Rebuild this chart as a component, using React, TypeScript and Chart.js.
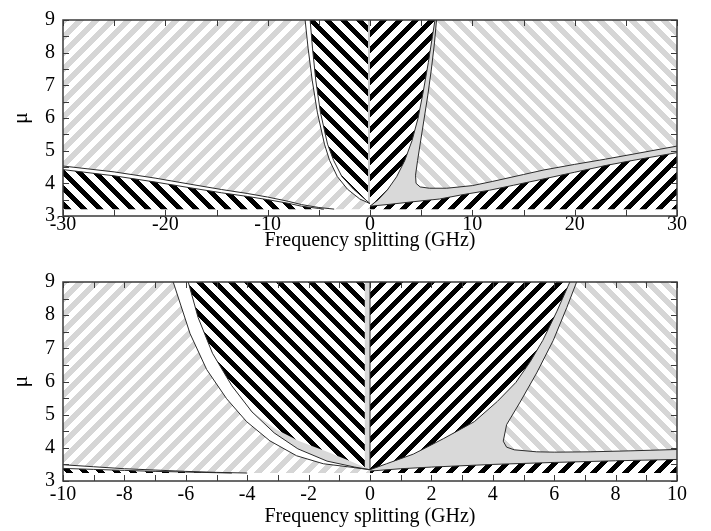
import React, { useEffect, useRef } from 'react';
import { Chart, registerables } from 'chart.js';

Chart.register(...registerables);

type P = [number, number];

// ---------------- Top panel (x: -30..30 GHz) ----------------
const topXTicks = [-30, -20, -10, 0, 10, 20, 30];
const topXMarks = [-30, -25, -20, -15, -10, -5, 0, 5, 10, 15, 20, 25, 30];
const muTicks = [3, 4, 5, 6, 7, 8, 9];
const muMarks = [3, 3.5, 4, 4.5, 5, 5.5, 6, 6.5, 7, 7.5, 8, 8.5, 9];
const topFloor = 3.21;

const topLeftUpper: P[] = [[-30, 4.53], [-25, 4.35], [-21, 4.16], [-17.5, 3.97], [-14.5, 3.81], [-12, 3.69], [-10, 3.58], [-8, 3.45], [-6.7, 3.35], [-5, 3.26], [-3.5, 3.21]];
const topLeftLower: P[] = [[-30, 4.42], [-25, 4.23], [-21, 4.04], [-17.5, 3.86], [-14.5, 3.71], [-12, 3.6], [-10, 3.5], [-8, 3.39], [-6.7, 3.3], [-5, 3.23], [-4.5, 3.21]];
const topVOuter: P[] = [[-6.34, 9], [-6.05, 8.14], [-5.65, 7.16], [-5.15, 6.18], [-4.45, 5.2], [-3.95, 4.7], [-3.2, 4.21], [-2.2, 3.82], [-1.0, 3.52], [0, 3.38]];
const topVInner: P[] = [[-5.85, 9], [-5.62, 8.14], [-5.3, 7.16], [-4.85, 6.18], [-4.15, 5.2], [-3.55, 4.7], [-2.75, 4.21], [-1.6, 3.82], [-0.55, 3.53], [0, 3.38]];
const topVRight: P[] = [[0, 3.3], [0.8, 3.5], [1.7, 3.8], [2.6, 4.2], [3.4, 4.7], [4.1, 5.3], [4.7, 6.0], [5.2, 6.8], [5.7, 7.7], [6.1, 8.5], [6.35, 9]];
const topGrayRight: P[] = [[6.5, 9], [6.3, 8.3], [6.0, 7.5], [5.65, 6.7], [5.3, 6.0], [4.95, 5.3], [4.65, 4.7], [4.45, 4.25], [4.5, 4.0], [4.9, 3.89], [5.8, 3.85], [7.5, 3.85], [10, 3.93], [12, 4.06], [15, 4.27], [17, 4.41], [20, 4.58], [23, 4.74], [26, 4.91], [30, 5.14]];
const topLowerRight: P[] = [[0, 3.3], [2, 3.36], [4, 3.43], [6.8, 3.52], [9, 3.65], [11.7, 3.79], [14, 3.94], [16.6, 4.11], [20, 4.34], [23.1, 4.55], [26, 4.72], [30, 4.94]];

// ---------------- Bottom panel (x: -10..10 GHz) ----------------
const botXTicks = [-10, -8, -6, -4, -2, 0, 2, 4, 6, 8, 10];
const botXMarks = [-10, -9, -8, -7, -6, -5, -4, -3, -2, -1, 0, 1, 2, 3, 4, 5, 6, 7, 8, 9, 10];
const botFloor = 3.24;

const botLeftUpper: P[] = [[-10, 3.49], [-9, 3.43], [-8, 3.37], [-7, 3.33], [-6, 3.29], [-5, 3.26], [-4, 3.24]];
const botLeftLower: P[] = [[-10, 3.38], [-9, 3.35], [-8, 3.32], [-7, 3.29], [-6, 3.27], [-5, 3.25], [-4.5, 3.24]];
const botVOuter: P[] = [[-6.41, 9], [-5.86, 7.44], [-5.32, 6.36], [-4.67, 5.48], [-4.02, 4.79], [-3.26, 4.21], [-2.39, 3.76], [-1.52, 3.52], [-0.65, 3.42], [0, 3.34]];
const botVMid: P[] = [[-5.92, 9], [-5.6, 7.93], [-5.13, 6.85], [-4.5, 5.87], [-3.85, 5.09], [-3.12, 4.45], [-2.35, 3.97], [-1.4, 3.6], [-0.5, 3.42], [0, 3.34]];
const botVBlack: P[] = [[-5.92, 9], [-5.6, 7.93], [-5.13, 6.85], [-4.5, 5.87], [-3.85, 5.09], [-3.05, 4.55], [-2.3, 4.2], [-1.5, 3.92], [-0.65, 3.6], [0, 3.34]];
const botVRight: P[] = [[0, 3.34], [0.54, 3.52], [1.41, 3.81], [2.4, 4.28], [3.4, 4.79], [4.15, 5.4], [4.75, 5.97], [5.22, 6.6], [5.63, 7.24], [6.08, 8.1], [6.51, 9]];
const botGrayRight: P[] = [[6.73, 9], [6.41, 8.23], [5.97, 7.24], [5.43, 6.26], [4.89, 5.38], [4.45, 4.7], [4.34, 4.2], [4.45, 4.02], [4.7, 3.94], [5.43, 3.88], [6, 3.87], [7.17, 3.88], [8.5, 3.91], [10, 3.95]];
const botLowerRight: P[] = [[0, 3.3], [1, 3.37], [2, 3.42], [4, 3.5], [6, 3.56], [8, 3.61], [10, 3.65]];
const botCenterStrip: P[] = [[-0.17, 3.36], [-0.17, 9], [0, 9], [0, 3.34]];

const FONT = "'Liberation Serif', 'Times New Roman', serif";
const LINE = '#2b2b2b';
const GRAY_SOLID = '#d9d9d9';

type Pats = { grayUp: CanvasPattern; grayDown: CanvasPattern; blackUp: CanvasPattern; blackDown: CanvasPattern };

function stripe(ctx: CanvasRenderingContext2D, color: [number, number, number], dir: 1 | -1, period: number, w: number): CanvasPattern {
  const c = document.createElement('canvas');
  c.width = period;
  c.height = period;
  const cx = c.getContext('2d')!;
  const img = cx.createImageData(period, period);
  for (let y = 0; y < period; y++) {
    for (let x = 0; x < period; x++) {
      const k = (((x + dir * y) % period) + period) % period;
      const on = k < w;
      const i = (y * period + x) * 4;
      img.data[i] = on ? color[0] : 255;
      img.data[i + 1] = on ? color[1] : 255;
      img.data[i + 2] = on ? color[2] : 255;
      img.data[i + 3] = 255;
    }
  }
  cx.putImageData(img, 0, 0);
  return ctx.createPattern(c, 'repeat')!;
}

function makePatterns(ctx: CanvasRenderingContext2D): Pats {
  return {
    grayUp: stripe(ctx, [214, 214, 214], 1, 16, 8),
    grayDown: stripe(ctx, [214, 214, 214], -1, 16, 8),
    blackUp: stripe(ctx, [0, 0, 0], 1, 16, 7),
    blackDown: stripe(ctx, [0, 0, 0], -1, 16, 7),
  };
}

const pts = (a: P[]) => a.map(([x, y]) => ({ x, y }));
const rev = (a: P[]) => a.slice().reverse();
const last = (a: P[]) => a[a.length - 1];

const region = (a: P[], bg: any, order: number) => ({
  data: pts(a),
  fill: 'shape',
  backgroundColor: bg,
  borderColor: 'rgba(0,0,0,0)',
  borderWidth: 0,
  pointRadius: 0,
  pointHoverRadius: 0,
  tension: 0,
  order,
});
const curve = (a: P[], color = LINE, width = 1, order = 1) => ({
  data: pts(a),
  fill: false,
  backgroundColor: 'rgba(0,0,0,0)',
  borderColor: color,
  borderWidth: width,
  pointRadius: 0,
  pointHoverRadius: 0,
  tension: 0,
  order,
});

function topDatasets(p: Pats) {
  return [
    region([[-30, topFloor], [-30, 9], [0, 9], [0, topFloor]], p.grayUp, 10),
    region([[0, topFloor], [0, 9], [30, 9], [30, topFloor]], p.grayDown, 10),
    region([[-30, topFloor], ...topLeftUpper, [last(topLeftUpper)[0], topFloor]], '#ffffff', 9),
    region([[-30, topFloor], ...topLeftLower, [last(topLeftLower)[0], topFloor]], p.blackDown, 8),
    region([...topVOuter, [0, 9]], '#ffffff', 9),
    region([...topVInner, [0, 9]], p.blackDown, 8),
    region([[0, 9], ...topLowerRight, ...rev(topGrayRight)], GRAY_SOLID, 9),
    region([[0, 9], ...topVRight], p.blackUp, 8),
    region([[0, topFloor], ...topLowerRight, [30, topFloor]], p.blackUp, 8),
    curve([[-0.1, 3.38], [-0.1, 9]], '#c4c4c4', 2, 6),
    curve(topLeftUpper),
    curve(topLeftLower),
    curve(topVOuter),
    curve(topVInner),
    curve(topVRight),
    curve(topGrayRight),
    curve(topLowerRight),
  ];
}

function botDatasets(p: Pats) {
  return [
    region([[-10, botFloor], [-10, 9], [0, 9], [0, botFloor]], p.grayUp, 10),
    region([[0, botFloor], [0, 9], [10, 9], [10, botFloor]], p.grayDown, 10),
    region([[-10, botFloor], ...botLeftUpper, [last(botLeftUpper)[0], botFloor]], '#ffffff', 9),
    region([[-10, botFloor], ...botLeftLower, [last(botLeftLower)[0], botFloor]], p.blackDown, 8),
    region([...botVOuter, [0, 9]], '#ffffff', 9.5),
    region([...botVMid, [0, 9]], GRAY_SOLID, 9),
    region([...botVBlack, [0, 9]], p.blackDown, 8),
    region([[0, 9], ...botLowerRight, ...rev(botGrayRight)], GRAY_SOLID, 9),
    region([[0, 9], ...botVRight], p.blackUp, 8),
    region([[0, botFloor], ...botLowerRight, [10, botFloor]], p.blackUp, 8),
    region(botCenterStrip, GRAY_SOLID, 7),
    curve([[0, 3.34], [0, 9]], LINE, 1, 2),
    curve(botLeftUpper),
    curve(botLeftLower),
    curve(botVOuter),
    curve(botVMid),
    curve(botVRight),
    curve(botGrayRight),
    curve(botLowerRight),
  ];
}

const frameTicks = {
  id: 'frameTicks',
  afterDatasetsDraw(chart: any, _args: any, opts: any) {
    const { ctx, chartArea: a, scales } = chart;
    const xs = scales.x;
    const ys = scales.y;
    const L = 6;
    ctx.save();
    ctx.strokeStyle = '#3a3a3a';
    ctx.lineWidth = 1;
    ctx.beginPath();
    for (const v of opts.xMarks) {
      const px = Math.round(xs.getPixelForValue(v)) + 0.5;
      ctx.moveTo(px, a.bottom);
      ctx.lineTo(px, a.bottom - L);
      ctx.moveTo(px, a.top);
      ctx.lineTo(px, a.top + L);
    }
    for (const v of opts.yMarks) {
      const py = Math.round(ys.getPixelForValue(v)) + 0.5;
      ctx.moveTo(a.left, py);
      ctx.lineTo(a.left + L, py);
      ctx.moveTo(a.right, py);
      ctx.lineTo(a.right - L, py);
    }
    ctx.stroke();
    ctx.lineWidth = 1.5;
    ctx.strokeRect(a.left, a.top, a.right - a.left, a.bottom - a.top);
    ctx.restore();
  },
};

type PanelProps = {
  top: number;
  height: number;
  padTop: number;
  xAxisH: number;
  tickPad: number;
  titlePadBottom: number;
  xMin: number;
  xMax: number;
  xTicks: number[];
  xMarks: number[];
  build: (p: Pats) => any[];
};

function Panel(props: PanelProps) {
  const ref = useRef<HTMLCanvasElement>(null);
  useEffect(() => {
    const canvas = ref.current!;
    const ctx = canvas.getContext('2d')!;
    const pats = makePatterns(ctx);
    const tickFont = { family: FONT, size: 20 };
    const chart = new Chart(canvas, {
      type: 'line',
      data: { datasets: props.build(pats) as any },
      plugins: [frameTicks as any],
      options: {
        animation: false,
        responsive: false,
        events: [],
        layout: { padding: { top: props.padTop, right: 34, left: 0, bottom: 0 } },
        plugins: {
          legend: { display: false },
          tooltip: { enabled: false },
          frameTicks: { xMarks: props.xMarks, yMarks: muMarks },
        } as any,
        scales: {
          x: {
            type: 'linear',
            min: props.xMin,
            max: props.xMax,
            afterBuildTicks: (s: any) => {
              s.ticks = props.xTicks.map((value) => ({ value }));
            },
            afterFit: (s: any) => {
              s.height = props.xAxisH;
            },
            ticks: {
              font: tickFont,
              color: '#000',
              padding: props.tickPad,
              maxRotation: 0,
              autoSkip: false,
              callback: (v: any) => String(v),
            },
            grid: { display: false, drawTicks: false },
            border: { display: false },
            title: {
              display: true,
              text: 'Frequency splitting (GHz)',
              font: tickFont,
              color: '#000',
              padding: { top: 0, bottom: props.titlePadBottom },
            },
          },
          y: {
            type: 'linear',
            min: 3,
            max: 9,
            afterBuildTicks: (s: any) => {
              s.ticks = muTicks.map((value) => ({ value }));
            },
            afterFit: (s: any) => {
              s.width = 63;
            },
            ticks: {
              font: tickFont,
              color: '#000',
              padding: 8,
              autoSkip: false,
              callback: (v: any) => String(v),
            },
            grid: { display: false, drawTicks: false },
            border: { display: false },
            title: {
              display: true,
              text: 'μ',
              font: { family: FONT, size: 22 },
              color: '#000',
              padding: { top: 8, bottom: 0 },
            },
          },
        },
      } as any,
    });
    return () => chart.destroy();
  }, []);
  return (
    <canvas
      ref={ref}
      width={711}
      height={props.height}
      style={{ position: 'absolute', left: 0, top: props.top, width: 711, height: props.height, display: 'block' }}
    />
  );
}

export default function App() {
  return (
    <div style={{ position: 'absolute', left: 0, top: 0, width: 711, height: 531, background: '#fff', overflow: 'hidden' }}>
      <Panel top={0} height={262} padTop={13} xAxisH={46} tickPad={-3} titlePadBottom={9} xMin={-30} xMax={30} xTicks={topXTicks} xMarks={topXMarks} build={topDatasets} />
      <Panel top={262} height={269} padTop={15} xAxisH={50} tickPad={2} titlePadBottom={2} xMin={-10} xMax={10} xTicks={botXTicks} xMarks={botXMarks} build={botDatasets} />
    </div>
  );
}
